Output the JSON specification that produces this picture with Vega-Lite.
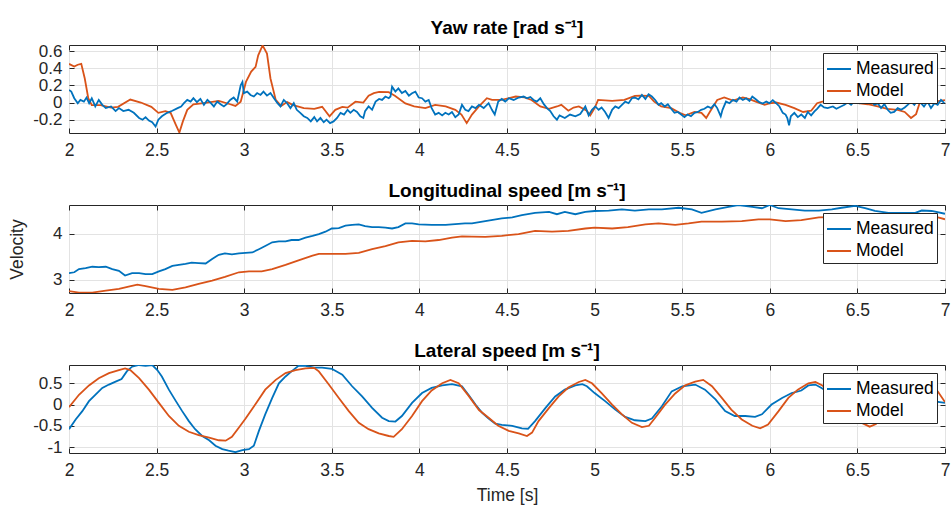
{
"$schema": "https://vega.github.io/schema/vega-lite/v6.json",
"background": "white",
"padding": {"left": 8, "top": 18, "right": 0, "bottom": 0},
"config": {
  "font": "Liberation Sans",
  "view": {"stroke": "#262626", "strokeWidth": 1},
  "axis": {"domain": false, "grid": true, "gridColor": "#e3e3e3", "gridWidth": 1, "tickColor": "#262626", "tickSize": -5, "tickWidth": 1, "labelFontSize": 17.5, "labelColor": "#262626", "labelFont": "Liberation Sans", "labelOverlap": false, "labelFlush": false, "labelBound": false, "titleFontSize": 17.5, "titleFontWeight": "normal", "titleColor": "#262626", "titleFont": "Liberation Sans"},
  "axisX": {"labelPadding": 13, "titlePadding": 8},
  "axisY": {"labelPadding": 12, "titlePadding": 26, "labelFontSize": 17},
  "title": {"fontSize": 19, "fontWeight": "bold", "color": "#000000", "font": "Liberation Sans", "offset": 4},
  "legend": {"orient": "top-right", "offset": 8, "title": null, "strokeColor": "#262626", "fillColor": "white", "padding": 3, "symbolType": "stroke", "symbolSize": 576, "symbolStrokeWidth": 2, "labelFontSize": 17.5, "labelColor": "#000000", "labelFont": "Liberation Sans", "rowPadding": 0, "labelOffset": 4, "cornerRadius": 0}
},
"bounds": "flush",
"spacing": 72,
"resolve": {"scale": {"x": "independent", "y": "independent", "color": "independent"}, "legend": {"color": "independent"}},
"datasets": {
"yaw": [
{"t":2.0,"v":0.45,"s":"Model"},{"t":2.03,"v":0.42,"s":"Model"},{"t":2.05,"v":0.44,"s":"Model"},{"t":2.07,"v":0.45,"s":"Model"},{"t":2.09,"v":0.28,"s":"Model"},{"t":2.11,"v":0.05,"s":"Model"},{"t":2.13,"v":-0.03,"s":"Model"},{"t":2.18,"v":-0.03,"s":"Model"},{"t":2.24,"v":-0.06,"s":"Model"},{"t":2.28,"v":-0.05,"s":"Model"},{"t":2.35,"v":0.035,"s":"Model"},{"t":2.41,"v":0.0,"s":"Model"},{"t":2.47,"v":-0.05,"s":"Model"},{"t":2.51,"v":-0.12,"s":"Model"},{"t":2.55,"v":-0.1,"s":"Model"},{"t":2.58,"v":-0.12,"s":"Model"},{"t":2.61,"v":-0.26,"s":"Model"},{"t":2.63,"v":-0.35,"s":"Model"},{"t":2.65,"v":-0.22,"s":"Model"},{"t":2.675,"v":-0.085,"s":"Model"},{"t":2.71,"v":-0.02,"s":"Model"},{"t":2.79,"v":0.0,"s":"Model"},{"t":2.855,"v":0.02,"s":"Model"},{"t":2.92,"v":-0.02,"s":"Model"},{"t":2.95,"v":-0.04,"s":"Model"},{"t":2.98,"v":0.01,"s":"Model"},{"t":3.01,"v":0.24,"s":"Model"},{"t":3.04,"v":0.36,"s":"Model"},{"t":3.065,"v":0.415,"s":"Model"},{"t":3.08,"v":0.55,"s":"Model"},{"t":3.105,"v":0.665,"s":"Model"},{"t":3.13,"v":0.57,"s":"Model"},{"t":3.15,"v":0.28,"s":"Model"},{"t":3.18,"v":0.03,"s":"Model"},{"t":3.21,"v":-0.04,"s":"Model"},{"t":3.245,"v":0.005,"s":"Model"},{"t":3.28,"v":-0.03,"s":"Model"},{"t":3.34,"v":-0.065,"s":"Model"},{"t":3.4,"v":-0.075,"s":"Model"},{"t":3.445,"v":-0.05,"s":"Model"},{"t":3.487,"v":-0.16,"s":"Model"},{"t":3.52,"v":-0.085,"s":"Model"},{"t":3.56,"v":-0.05,"s":"Model"},{"t":3.59,"v":-0.06,"s":"Model"},{"t":3.635,"v":0.01,"s":"Model"},{"t":3.68,"v":0.0,"s":"Model"},{"t":3.71,"v":0.08,"s":"Model"},{"t":3.74,"v":0.11,"s":"Model"},{"t":3.77,"v":0.125,"s":"Model"},{"t":3.825,"v":0.12,"s":"Model"},{"t":3.86,"v":0.08,"s":"Model"},{"t":3.92,"v":-0.01,"s":"Model"},{"t":3.97,"v":-0.046,"s":"Model"},{"t":4.034,"v":-0.065,"s":"Model"},{"t":4.09,"v":-0.027,"s":"Model"},{"t":4.15,"v":-0.046,"s":"Model"},{"t":4.205,"v":-0.085,"s":"Model"},{"t":4.24,"v":-0.14,"s":"Model"},{"t":4.27,"v":-0.24,"s":"Model"},{"t":4.3,"v":-0.14,"s":"Model"},{"t":4.34,"v":-0.046,"s":"Model"},{"t":4.385,"v":0.05,"s":"Model"},{"t":4.415,"v":0.03,"s":"Model"},{"t":4.47,"v":0.03,"s":"Model"},{"t":4.55,"v":0.07,"s":"Model"},{"t":4.6,"v":0.06,"s":"Model"},{"t":4.64,"v":0.03,"s":"Model"},{"t":4.69,"v":-0.046,"s":"Model"},{"t":4.74,"v":-0.073,"s":"Model"},{"t":4.785,"v":-0.046,"s":"Model"},{"t":4.81,"v":-0.027,"s":"Model"},{"t":4.85,"v":-0.096,"s":"Model"},{"t":4.88,"v":-0.058,"s":"Model"},{"t":4.91,"v":-0.046,"s":"Model"},{"t":4.955,"v":-0.096,"s":"Model"},{"t":4.975,"v":-0.15,"s":"Model"},{"t":5.0,"v":-0.065,"s":"Model"},{"t":5.02,"v":0.03,"s":"Model"},{"t":5.1,"v":0.02,"s":"Model"},{"t":5.17,"v":0.03,"s":"Model"},{"t":5.23,"v":0.077,"s":"Model"},{"t":5.26,"v":0.08,"s":"Model"},{"t":5.31,"v":0.077,"s":"Model"},{"t":5.34,"v":0.01,"s":"Model"},{"t":5.38,"v":-0.046,"s":"Model"},{"t":5.437,"v":-0.065,"s":"Model"},{"t":5.485,"v":-0.12,"s":"Model"},{"t":5.52,"v":-0.15,"s":"Model"},{"t":5.57,"v":-0.11,"s":"Model"},{"t":5.61,"v":-0.12,"s":"Model"},{"t":5.637,"v":-0.18,"s":"Model"},{"t":5.665,"v":-0.085,"s":"Model"},{"t":5.7,"v":0.03,"s":"Model"},{"t":5.74,"v":0.06,"s":"Model"},{"t":5.79,"v":0.023,"s":"Model"},{"t":5.846,"v":0.058,"s":"Model"},{"t":5.884,"v":0.04,"s":"Model"},{"t":5.92,"v":0.01,"s":"Model"},{"t":5.97,"v":-0.027,"s":"Model"},{"t":5.998,"v":-0.01,"s":"Model"},{"t":6.036,"v":0.0,"s":"Model"},{"t":6.09,"v":-0.027,"s":"Model"},{"t":6.14,"v":-0.065,"s":"Model"},{"t":6.19,"v":-0.11,"s":"Model"},{"t":6.236,"v":-0.096,"s":"Model"},{"t":6.27,"v":-0.008,"s":"Model"},{"t":6.3,"v":0.01,"s":"Model"},{"t":6.36,"v":0.02,"s":"Model"},{"t":6.42,"v":0.01,"s":"Model"},{"t":6.48,"v":0.0,"s":"Model"},{"t":6.56,"v":-0.02,"s":"Model"},{"t":6.615,"v":-0.046,"s":"Model"},{"t":6.67,"v":-0.073,"s":"Model"},{"t":6.73,"v":-0.085,"s":"Model"},{"t":6.77,"v":-0.11,"s":"Model"},{"t":6.806,"v":-0.18,"s":"Model"},{"t":6.835,"v":-0.135,"s":"Model"},{"t":6.855,"v":-0.008,"s":"Model"},{"t":6.88,"v":0.02,"s":"Model"},{"t":6.94,"v":0.01,"s":"Model"},{"t":7.0,"v":0.027,"s":"Model"},
{"t":2.0,"v":0.146,"s":"Measured"},{"t":2.013,"v":0.127,"s":"Measured"},{"t":2.03,"v":0.05,"s":"Measured"},{"t":2.05,"v":-0.008,"s":"Measured"},{"t":2.065,"v":0.03,"s":"Measured"},{"t":2.085,"v":0.01,"s":"Measured"},{"t":2.1,"v":0.058,"s":"Measured"},{"t":2.115,"v":-0.008,"s":"Measured"},{"t":2.13,"v":0.05,"s":"Measured"},{"t":2.15,"v":-0.046,"s":"Measured"},{"t":2.17,"v":0.03,"s":"Measured"},{"t":2.19,"v":-0.027,"s":"Measured"},{"t":2.21,"v":-0.065,"s":"Measured"},{"t":2.24,"v":-0.046,"s":"Measured"},{"t":2.266,"v":-0.1,"s":"Measured"},{"t":2.285,"v":-0.065,"s":"Measured"},{"t":2.31,"v":-0.1,"s":"Measured"},{"t":2.34,"v":-0.085,"s":"Measured"},{"t":2.37,"v":-0.12,"s":"Measured"},{"t":2.4,"v":-0.18,"s":"Measured"},{"t":2.42,"v":-0.2,"s":"Measured"},{"t":2.437,"v":-0.17,"s":"Measured"},{"t":2.456,"v":-0.21,"s":"Measured"},{"t":2.475,"v":-0.23,"s":"Measured"},{"t":2.494,"v":-0.28,"s":"Measured"},{"t":2.51,"v":-0.2,"s":"Measured"},{"t":2.53,"v":-0.16,"s":"Measured"},{"t":2.56,"v":-0.12,"s":"Measured"},{"t":2.59,"v":-0.096,"s":"Measured"},{"t":2.62,"v":-0.065,"s":"Measured"},{"t":2.64,"v":-0.046,"s":"Measured"},{"t":2.656,"v":-0.008,"s":"Measured"},{"t":2.675,"v":0.03,"s":"Measured"},{"t":2.694,"v":0.011,"s":"Measured"},{"t":2.71,"v":0.05,"s":"Measured"},{"t":2.73,"v":0.004,"s":"Measured"},{"t":2.75,"v":0.042,"s":"Measured"},{"t":2.77,"v":-0.027,"s":"Measured"},{"t":2.79,"v":0.03,"s":"Measured"},{"t":2.81,"v":-0.008,"s":"Measured"},{"t":2.827,"v":-0.046,"s":"Measured"},{"t":2.846,"v":0.011,"s":"Measured"},{"t":2.865,"v":-0.019,"s":"Measured"},{"t":2.884,"v":-0.046,"s":"Measured"},{"t":2.9,"v":-0.019,"s":"Measured"},{"t":2.92,"v":0.03,"s":"Measured"},{"t":2.94,"v":0.058,"s":"Measured"},{"t":2.96,"v":0.011,"s":"Measured"},{"t":2.98,"v":0.2,"s":"Measured"},{"t":2.99,"v":0.24,"s":"Measured"},{"t":2.998,"v":0.11,"s":"Measured"},{"t":3.017,"v":0.127,"s":"Measured"},{"t":3.036,"v":0.088,"s":"Measured"},{"t":3.055,"v":0.07,"s":"Measured"},{"t":3.074,"v":0.11,"s":"Measured"},{"t":3.093,"v":0.088,"s":"Measured"},{"t":3.11,"v":0.127,"s":"Measured"},{"t":3.13,"v":0.08,"s":"Measured"},{"t":3.15,"v":0.11,"s":"Measured"},{"t":3.17,"v":0.05,"s":"Measured"},{"t":3.19,"v":-0.008,"s":"Measured"},{"t":3.207,"v":-0.046,"s":"Measured"},{"t":3.226,"v":0.03,"s":"Measured"},{"t":3.245,"v":-0.008,"s":"Measured"},{"t":3.264,"v":-0.065,"s":"Measured"},{"t":3.283,"v":-0.008,"s":"Measured"},{"t":3.3,"v":-0.085,"s":"Measured"},{"t":3.32,"v":-0.12,"s":"Measured"},{"t":3.34,"v":-0.16,"s":"Measured"},{"t":3.36,"v":-0.18,"s":"Measured"},{"t":3.38,"v":-0.22,"s":"Measured"},{"t":3.4,"v":-0.17,"s":"Measured"},{"t":3.416,"v":-0.22,"s":"Measured"},{"t":3.435,"v":-0.18,"s":"Measured"},{"t":3.454,"v":-0.23,"s":"Measured"},{"t":3.47,"v":-0.2,"s":"Measured"},{"t":3.49,"v":-0.24,"s":"Measured"},{"t":3.51,"v":-0.22,"s":"Measured"},{"t":3.53,"v":-0.18,"s":"Measured"},{"t":3.55,"v":-0.12,"s":"Measured"},{"t":3.57,"v":-0.14,"s":"Measured"},{"t":3.59,"v":-0.085,"s":"Measured"},{"t":3.606,"v":-0.12,"s":"Measured"},{"t":3.625,"v":-0.085,"s":"Measured"},{"t":3.644,"v":-0.11,"s":"Measured"},{"t":3.663,"v":-0.16,"s":"Measured"},{"t":3.68,"v":-0.18,"s":"Measured"},{"t":3.69,"v":-0.1,"s":"Measured"},{"t":3.71,"v":-0.046,"s":"Measured"},{"t":3.73,"v":-0.085,"s":"Measured"},{"t":3.75,"v":0.011,"s":"Measured"},{"t":3.77,"v":0.042,"s":"Measured"},{"t":3.787,"v":0.03,"s":"Measured"},{"t":3.806,"v":0.07,"s":"Measured"},{"t":3.825,"v":0.05,"s":"Measured"},{"t":3.835,"v":0.07,"s":"Measured"},{"t":3.844,"v":0.185,"s":"Measured"},{"t":3.863,"v":0.127,"s":"Measured"},{"t":3.88,"v":0.165,"s":"Measured"},{"t":3.9,"v":0.11,"s":"Measured"},{"t":3.92,"v":0.135,"s":"Measured"},{"t":3.94,"v":0.08,"s":"Measured"},{"t":3.958,"v":0.108,"s":"Measured"},{"t":3.977,"v":0.127,"s":"Measured"},{"t":3.996,"v":0.058,"s":"Measured"},{"t":4.015,"v":0.05,"s":"Measured"},{"t":4.034,"v":0.011,"s":"Measured"},{"t":4.053,"v":0.03,"s":"Measured"},{"t":4.07,"v":-0.065,"s":"Measured"},{"t":4.09,"v":-0.14,"s":"Measured"},{"t":4.11,"v":-0.12,"s":"Measured"},{"t":4.13,"v":-0.15,"s":"Measured"},{"t":4.148,"v":-0.12,"s":"Measured"},{"t":4.167,"v":-0.14,"s":"Measured"},{"t":4.186,"v":-0.11,"s":"Measured"},{"t":4.205,"v":-0.17,"s":"Measured"},{"t":4.224,"v":-0.14,"s":"Measured"},{"t":4.243,"v":-0.027,"s":"Measured"},{"t":4.262,"v":-0.085,"s":"Measured"},{"t":4.28,"v":-0.1,"s":"Measured"},{"t":4.3,"v":-0.046,"s":"Measured"},{"t":4.32,"v":-0.065,"s":"Measured"},{"t":4.34,"v":-0.027,"s":"Measured"},{"t":4.367,"v":-0.065,"s":"Measured"},{"t":4.395,"v":-0.008,"s":"Measured"},{"t":4.414,"v":-0.085,"s":"Measured"},{"t":4.43,"v":-0.14,"s":"Measured"},{"t":4.45,"v":0.011,"s":"Measured"},{"t":4.47,"v":0.042,"s":"Measured"},{"t":4.49,"v":0.011,"s":"Measured"},{"t":4.51,"v":0.05,"s":"Measured"},{"t":4.538,"v":0.03,"s":"Measured"},{"t":4.567,"v":0.058,"s":"Measured"},{"t":4.595,"v":0.07,"s":"Measured"},{"t":4.614,"v":0.05,"s":"Measured"},{"t":4.633,"v":0.065,"s":"Measured"},{"t":4.652,"v":0.03,"s":"Measured"},{"t":4.67,"v":0.011,"s":"Measured"},{"t":4.69,"v":0.05,"s":"Measured"},{"t":4.71,"v":-0.019,"s":"Measured"},{"t":4.728,"v":-0.065,"s":"Measured"},{"t":4.747,"v":-0.1,"s":"Measured"},{"t":4.766,"v":-0.16,"s":"Measured"},{"t":4.785,"v":-0.2,"s":"Measured"},{"t":4.8,"v":-0.15,"s":"Measured"},{"t":4.83,"v":-0.18,"s":"Measured"},{"t":4.86,"v":-0.14,"s":"Measured"},{"t":4.89,"v":-0.16,"s":"Measured"},{"t":4.918,"v":-0.135,"s":"Measured"},{"t":4.947,"v":-0.046,"s":"Measured"},{"t":4.966,"v":-0.15,"s":"Measured"},{"t":4.985,"v":-0.085,"s":"Measured"},{"t":5.004,"v":-0.046,"s":"Measured"},{"t":5.023,"v":-0.085,"s":"Measured"},{"t":5.04,"v":-0.058,"s":"Measured"},{"t":5.06,"v":-0.11,"s":"Measured"},{"t":5.08,"v":-0.18,"s":"Measured"},{"t":5.1,"v":-0.085,"s":"Measured"},{"t":5.118,"v":-0.046,"s":"Measured"},{"t":5.137,"v":-0.065,"s":"Measured"},{"t":5.156,"v":-0.027,"s":"Measured"},{"t":5.175,"v":0.011,"s":"Measured"},{"t":5.194,"v":-0.008,"s":"Measured"},{"t":5.213,"v":0.05,"s":"Measured"},{"t":5.23,"v":0.058,"s":"Measured"},{"t":5.25,"v":0.038,"s":"Measured"},{"t":5.27,"v":0.088,"s":"Measured"},{"t":5.29,"v":0.042,"s":"Measured"},{"t":5.308,"v":0.096,"s":"Measured"},{"t":5.327,"v":0.07,"s":"Measured"},{"t":5.346,"v":0.03,"s":"Measured"},{"t":5.365,"v":-0.027,"s":"Measured"},{"t":5.38,"v":-0.008,"s":"Measured"},{"t":5.4,"v":-0.046,"s":"Measured"},{"t":5.418,"v":-0.019,"s":"Measured"},{"t":5.437,"v":-0.073,"s":"Measured"},{"t":5.456,"v":-0.12,"s":"Measured"},{"t":5.475,"v":-0.11,"s":"Measured"},{"t":5.494,"v":-0.14,"s":"Measured"},{"t":5.513,"v":-0.17,"s":"Measured"},{"t":5.53,"v":-0.14,"s":"Measured"},{"t":5.55,"v":-0.16,"s":"Measured"},{"t":5.57,"v":-0.12,"s":"Measured"},{"t":5.59,"v":-0.11,"s":"Measured"},{"t":5.608,"v":-0.085,"s":"Measured"},{"t":5.627,"v":-0.073,"s":"Measured"},{"t":5.646,"v":-0.046,"s":"Measured"},{"t":5.665,"v":-0.065,"s":"Measured"},{"t":5.684,"v":-0.019,"s":"Measured"},{"t":5.7,"v":-0.065,"s":"Measured"},{"t":5.72,"v":-0.16,"s":"Measured"},{"t":5.73,"v":-0.085,"s":"Measured"},{"t":5.75,"v":0.011,"s":"Measured"},{"t":5.77,"v":-0.008,"s":"Measured"},{"t":5.79,"v":0.03,"s":"Measured"},{"t":5.81,"v":0.011,"s":"Measured"},{"t":5.827,"v":0.058,"s":"Measured"},{"t":5.846,"v":0.03,"s":"Measured"},{"t":5.865,"v":0.05,"s":"Measured"},{"t":5.884,"v":0.019,"s":"Measured"},{"t":5.9,"v":0.07,"s":"Measured"},{"t":5.92,"v":0.038,"s":"Measured"},{"t":5.94,"v":0.004,"s":"Measured"},{"t":5.96,"v":-0.012,"s":"Measured"},{"t":5.98,"v":0.011,"s":"Measured"},{"t":5.998,"v":-0.008,"s":"Measured"},{"t":6.017,"v":0.027,"s":"Measured"},{"t":6.036,"v":-0.008,"s":"Measured"},{"t":6.055,"v":-0.046,"s":"Measured"},{"t":6.074,"v":-0.12,"s":"Measured"},{"t":6.09,"v":-0.14,"s":"Measured"},{"t":6.1,"v":-0.18,"s":"Measured"},{"t":6.11,"v":-0.265,"s":"Measured"},{"t":6.12,"v":-0.16,"s":"Measured"},{"t":6.14,"v":-0.12,"s":"Measured"},{"t":6.16,"v":-0.17,"s":"Measured"},{"t":6.18,"v":-0.14,"s":"Measured"},{"t":6.2,"v":-0.18,"s":"Measured"},{"t":6.217,"v":-0.11,"s":"Measured"},{"t":6.236,"v":-0.15,"s":"Measured"},{"t":6.255,"v":-0.104,"s":"Measured"},{"t":6.27,"v":-0.073,"s":"Measured"},{"t":6.29,"v":-0.027,"s":"Measured"},{"t":6.31,"v":-0.058,"s":"Measured"},{"t":6.33,"v":-0.065,"s":"Measured"},{"t":6.36,"v":-0.046,"s":"Measured"},{"t":6.38,"v":-0.073,"s":"Measured"},{"t":6.406,"v":-0.046,"s":"Measured"},{"t":6.426,"v":-0.027,"s":"Measured"},{"t":6.445,"v":0.004,"s":"Measured"},{"t":6.464,"v":-0.027,"s":"Measured"},{"t":6.48,"v":0.011,"s":"Measured"},{"t":6.51,"v":-0.008,"s":"Measured"},{"t":6.53,"v":0.03,"s":"Measured"},{"t":6.56,"v":-0.008,"s":"Measured"},{"t":6.578,"v":0.019,"s":"Measured"},{"t":6.597,"v":-0.027,"s":"Measured"},{"t":6.616,"v":-0.008,"s":"Measured"},{"t":6.635,"v":-0.065,"s":"Measured"},{"t":6.654,"v":-0.019,"s":"Measured"},{"t":6.673,"v":-0.085,"s":"Measured"},{"t":6.69,"v":-0.12,"s":"Measured"},{"t":6.71,"v":-0.11,"s":"Measured"},{"t":6.73,"v":-0.065,"s":"Measured"},{"t":6.75,"v":-0.085,"s":"Measured"},{"t":6.77,"v":-0.058,"s":"Measured"},{"t":6.787,"v":-0.027,"s":"Measured"},{"t":6.806,"v":0.011,"s":"Measured"},{"t":6.825,"v":-0.027,"s":"Measured"},{"t":6.844,"v":0.03,"s":"Measured"},{"t":6.863,"v":-0.008,"s":"Measured"},{"t":6.88,"v":-0.046,"s":"Measured"},{"t":6.9,"v":0.011,"s":"Measured"},{"t":6.92,"v":-0.065,"s":"Measured"},{"t":6.94,"v":-0.008,"s":"Measured"},{"t":6.958,"v":-0.027,"s":"Measured"},{"t":6.977,"v":0.03,"s":"Measured"},{"t":6.996,"v":-0.008,"s":"Measured"}
],
"lon": [
{"t":2.0,"v":3.14,"s":"Measured"},{"t":2.03,"v":3.16,"s":"Measured"},{"t":2.057,"v":3.23,"s":"Measured"},{"t":2.095,"v":3.25,"s":"Measured"},{"t":2.133,"v":3.28,"s":"Measured"},{"t":2.17,"v":3.27,"s":"Measured"},{"t":2.21,"v":3.28,"s":"Measured"},{"t":2.247,"v":3.23,"s":"Measured"},{"t":2.285,"v":3.19,"s":"Measured"},{"t":2.32,"v":3.09,"s":"Measured"},{"t":2.36,"v":3.14,"s":"Measured"},{"t":2.4,"v":3.14,"s":"Measured"},{"t":2.437,"v":3.12,"s":"Measured"},{"t":2.475,"v":3.12,"s":"Measured"},{"t":2.513,"v":3.18,"s":"Measured"},{"t":2.55,"v":3.23,"s":"Measured"},{"t":2.59,"v":3.3,"s":"Measured"},{"t":2.627,"v":3.32,"s":"Measured"},{"t":2.665,"v":3.34,"s":"Measured"},{"t":2.7,"v":3.37,"s":"Measured"},{"t":2.74,"v":3.36,"s":"Measured"},{"t":2.78,"v":3.35,"s":"Measured"},{"t":2.817,"v":3.45,"s":"Measured"},{"t":2.855,"v":3.54,"s":"Measured"},{"t":2.89,"v":3.57,"s":"Measured"},{"t":2.93,"v":3.55,"s":"Measured"},{"t":2.97,"v":3.57,"s":"Measured"},{"t":3.008,"v":3.58,"s":"Measured"},{"t":3.046,"v":3.59,"s":"Measured"},{"t":3.084,"v":3.66,"s":"Measured"},{"t":3.12,"v":3.73,"s":"Measured"},{"t":3.16,"v":3.81,"s":"Measured"},{"t":3.198,"v":3.83,"s":"Measured"},{"t":3.236,"v":3.83,"s":"Measured"},{"t":3.27,"v":3.86,"s":"Measured"},{"t":3.31,"v":3.86,"s":"Measured"},{"t":3.35,"v":3.91,"s":"Measured"},{"t":3.39,"v":3.95,"s":"Measured"},{"t":3.426,"v":3.99,"s":"Measured"},{"t":3.464,"v":4.04,"s":"Measured"},{"t":3.5,"v":4.11,"s":"Measured"},{"t":3.54,"v":4.12,"s":"Measured"},{"t":3.578,"v":4.17,"s":"Measured"},{"t":3.616,"v":4.19,"s":"Measured"},{"t":3.654,"v":4.2,"s":"Measured"},{"t":3.69,"v":4.16,"s":"Measured"},{"t":3.73,"v":4.14,"s":"Measured"},{"t":3.768,"v":4.14,"s":"Measured"},{"t":3.806,"v":4.13,"s":"Measured"},{"t":3.844,"v":4.11,"s":"Measured"},{"t":3.88,"v":4.14,"s":"Measured"},{"t":3.92,"v":4.22,"s":"Measured"},{"t":3.958,"v":4.22,"s":"Measured"},{"t":3.996,"v":4.2,"s":"Measured"},{"t":4.07,"v":4.19,"s":"Measured"},{"t":4.15,"v":4.19,"s":"Measured"},{"t":4.186,"v":4.2,"s":"Measured"},{"t":4.26,"v":4.22,"s":"Measured"},{"t":4.3,"v":4.22,"s":"Measured"},{"t":4.376,"v":4.27,"s":"Measured"},{"t":4.47,"v":4.33,"s":"Measured"},{"t":4.53,"v":4.35,"s":"Measured"},{"t":4.585,"v":4.4,"s":"Measured"},{"t":4.66,"v":4.45,"s":"Measured"},{"t":4.74,"v":4.47,"s":"Measured"},{"t":4.785,"v":4.42,"s":"Measured"},{"t":4.83,"v":4.47,"s":"Measured"},{"t":4.89,"v":4.42,"s":"Measured"},{"t":4.947,"v":4.47,"s":"Measured"},{"t":5.0,"v":4.49,"s":"Measured"},{"t":5.08,"v":4.5,"s":"Measured"},{"t":5.156,"v":4.525,"s":"Measured"},{"t":5.23,"v":4.5,"s":"Measured"},{"t":5.31,"v":4.525,"s":"Measured"},{"t":5.384,"v":4.525,"s":"Measured"},{"t":5.48,"v":4.56,"s":"Measured"},{"t":5.555,"v":4.525,"s":"Measured"},{"t":5.61,"v":4.45,"s":"Measured"},{"t":5.69,"v":4.525,"s":"Measured"},{"t":5.764,"v":4.58,"s":"Measured"},{"t":5.82,"v":4.62,"s":"Measured"},{"t":5.9,"v":4.58,"s":"Measured"},{"t":5.955,"v":4.55,"s":"Measured"},{"t":6.0,"v":4.62,"s":"Measured"},{"t":6.05,"v":4.55,"s":"Measured"},{"t":6.125,"v":4.525,"s":"Measured"},{"t":6.2,"v":4.5,"s":"Measured"},{"t":6.28,"v":4.5,"s":"Measured"},{"t":6.354,"v":4.525,"s":"Measured"},{"t":6.41,"v":4.56,"s":"Measured"},{"t":6.487,"v":4.6,"s":"Measured"},{"t":6.544,"v":4.55,"s":"Measured"},{"t":6.6,"v":4.49,"s":"Measured"},{"t":6.677,"v":4.45,"s":"Measured"},{"t":6.753,"v":4.45,"s":"Measured"},{"t":6.83,"v":4.45,"s":"Measured"},{"t":6.867,"v":4.5,"s":"Measured"},{"t":6.924,"v":4.49,"s":"Measured"},{"t":7.0,"v":4.43,"s":"Measured"},
{"t":2.0,"v":2.75,"s":"Model"},{"t":2.057,"v":2.72,"s":"Model"},{"t":2.133,"v":2.72,"s":"Model"},{"t":2.21,"v":2.76,"s":"Model"},{"t":2.285,"v":2.8,"s":"Model"},{"t":2.34,"v":2.85,"s":"Model"},{"t":2.39,"v":2.89,"s":"Model"},{"t":2.437,"v":2.86,"s":"Model"},{"t":2.513,"v":2.8,"s":"Model"},{"t":2.59,"v":2.78,"s":"Model"},{"t":2.665,"v":2.83,"s":"Model"},{"t":2.74,"v":2.91,"s":"Model"},{"t":2.817,"v":2.98,"s":"Model"},{"t":2.89,"v":3.06,"s":"Model"},{"t":2.97,"v":3.16,"s":"Model"},{"t":3.027,"v":3.18,"s":"Model"},{"t":3.1,"v":3.18,"s":"Model"},{"t":3.16,"v":3.23,"s":"Model"},{"t":3.236,"v":3.32,"s":"Model"},{"t":3.31,"v":3.42,"s":"Model"},{"t":3.39,"v":3.52,"s":"Model"},{"t":3.426,"v":3.56,"s":"Model"},{"t":3.5,"v":3.56,"s":"Model"},{"t":3.578,"v":3.56,"s":"Model"},{"t":3.654,"v":3.58,"s":"Model"},{"t":3.73,"v":3.66,"s":"Model"},{"t":3.806,"v":3.73,"s":"Model"},{"t":3.88,"v":3.81,"s":"Model"},{"t":3.958,"v":3.84,"s":"Model"},{"t":4.034,"v":3.83,"s":"Model"},{"t":4.11,"v":3.86,"s":"Model"},{"t":4.186,"v":3.91,"s":"Model"},{"t":4.243,"v":3.94,"s":"Model"},{"t":4.3,"v":3.935,"s":"Model"},{"t":4.376,"v":3.93,"s":"Model"},{"t":4.47,"v":3.95,"s":"Model"},{"t":4.566,"v":3.99,"s":"Model"},{"t":4.66,"v":4.06,"s":"Model"},{"t":4.757,"v":4.04,"s":"Model"},{"t":4.85,"v":4.06,"s":"Model"},{"t":4.947,"v":4.11,"s":"Model"},{"t":5.0,"v":4.13,"s":"Model"},{"t":5.1,"v":4.11,"s":"Model"},{"t":5.19,"v":4.14,"s":"Model"},{"t":5.29,"v":4.2,"s":"Model"},{"t":5.365,"v":4.22,"s":"Model"},{"t":5.46,"v":4.19,"s":"Model"},{"t":5.536,"v":4.22,"s":"Model"},{"t":5.61,"v":4.26,"s":"Model"},{"t":5.726,"v":4.26,"s":"Model"},{"t":5.84,"v":4.27,"s":"Model"},{"t":5.935,"v":4.31,"s":"Model"},{"t":6.0,"v":4.31,"s":"Model"},{"t":6.09,"v":4.27,"s":"Model"},{"t":6.18,"v":4.29,"s":"Model"},{"t":6.28,"v":4.35,"s":"Model"},{"t":6.4,"v":4.36,"s":"Model"},{"t":6.55,"v":4.37,"s":"Model"},{"t":6.7,"v":4.36,"s":"Model"},{"t":6.85,"v":4.37,"s":"Model"},{"t":6.96,"v":4.35,"s":"Model"},{"t":7.0,"v":4.31,"s":"Model"}
],
"lat": [
{"t":2.0,"v":-0.58,"s":"Measured"},{"t":2.038,"v":-0.35,"s":"Measured"},{"t":2.076,"v":-0.155,"s":"Measured"},{"t":2.114,"v":0.08,"s":"Measured"},{"t":2.15,"v":0.23,"s":"Measured"},{"t":2.19,"v":0.39,"s":"Measured"},{"t":2.228,"v":0.47,"s":"Measured"},{"t":2.266,"v":0.54,"s":"Measured"},{"t":2.3,"v":0.6,"s":"Measured"},{"t":2.33,"v":0.78,"s":"Measured"},{"t":2.36,"v":0.89,"s":"Measured"},{"t":2.4,"v":0.93,"s":"Measured"},{"t":2.437,"v":0.91,"s":"Measured"},{"t":2.475,"v":0.93,"s":"Measured"},{"t":2.504,"v":0.81,"s":"Measured"},{"t":2.53,"v":0.66,"s":"Measured"},{"t":2.57,"v":0.35,"s":"Measured"},{"t":2.61,"v":0.08,"s":"Measured"},{"t":2.646,"v":-0.155,"s":"Measured"},{"t":2.684,"v":-0.39,"s":"Measured"},{"t":2.72,"v":-0.58,"s":"Measured"},{"t":2.76,"v":-0.74,"s":"Measured"},{"t":2.8,"v":-0.84,"s":"Measured"},{"t":2.836,"v":-0.97,"s":"Measured"},{"t":2.875,"v":-1.05,"s":"Measured"},{"t":2.91,"v":-1.085,"s":"Measured"},{"t":2.95,"v":-1.12,"s":"Measured"},{"t":2.99,"v":-1.07,"s":"Measured"},{"t":3.027,"v":-1.05,"s":"Measured"},{"t":3.055,"v":-0.97,"s":"Measured"},{"t":3.084,"v":-0.62,"s":"Measured"},{"t":3.12,"v":-0.23,"s":"Measured"},{"t":3.16,"v":0.155,"s":"Measured"},{"t":3.198,"v":0.5,"s":"Measured"},{"t":3.236,"v":0.66,"s":"Measured"},{"t":3.27,"v":0.78,"s":"Measured"},{"t":3.31,"v":0.91,"s":"Measured"},{"t":3.35,"v":0.91,"s":"Measured"},{"t":3.4,"v":0.87,"s":"Measured"},{"t":3.445,"v":0.87,"s":"Measured"},{"t":3.5,"v":0.84,"s":"Measured"},{"t":3.56,"v":0.7,"s":"Measured"},{"t":3.616,"v":0.43,"s":"Measured"},{"t":3.673,"v":0.19,"s":"Measured"},{"t":3.73,"v":-0.08,"s":"Measured"},{"t":3.787,"v":-0.31,"s":"Measured"},{"t":3.825,"v":-0.39,"s":"Measured"},{"t":3.863,"v":-0.4,"s":"Measured"},{"t":3.9,"v":-0.27,"s":"Measured"},{"t":3.958,"v":0.04,"s":"Measured"},{"t":4.015,"v":0.27,"s":"Measured"},{"t":4.07,"v":0.39,"s":"Measured"},{"t":4.13,"v":0.45,"s":"Measured"},{"t":4.186,"v":0.48,"s":"Measured"},{"t":4.243,"v":0.43,"s":"Measured"},{"t":4.28,"v":0.23,"s":"Measured"},{"t":4.32,"v":0.0,"s":"Measured"},{"t":4.357,"v":-0.19,"s":"Measured"},{"t":4.395,"v":-0.33,"s":"Measured"},{"t":4.433,"v":-0.45,"s":"Measured"},{"t":4.47,"v":-0.48,"s":"Measured"},{"t":4.53,"v":-0.5,"s":"Measured"},{"t":4.585,"v":-0.56,"s":"Measured"},{"t":4.62,"v":-0.57,"s":"Measured"},{"t":4.66,"v":-0.39,"s":"Measured"},{"t":4.72,"v":-0.08,"s":"Measured"},{"t":4.775,"v":0.19,"s":"Measured"},{"t":4.83,"v":0.35,"s":"Measured"},{"t":4.89,"v":0.45,"s":"Measured"},{"t":4.93,"v":0.48,"s":"Measured"},{"t":4.956,"v":0.43,"s":"Measured"},{"t":5.0,"v":0.27,"s":"Measured"},{"t":5.06,"v":0.08,"s":"Measured"},{"t":5.118,"v":-0.12,"s":"Measured"},{"t":5.175,"v":-0.29,"s":"Measured"},{"t":5.23,"v":-0.37,"s":"Measured"},{"t":5.29,"v":-0.39,"s":"Measured"},{"t":5.327,"v":-0.33,"s":"Measured"},{"t":5.384,"v":-0.04,"s":"Measured"},{"t":5.44,"v":0.31,"s":"Measured"},{"t":5.5,"v":0.43,"s":"Measured"},{"t":5.574,"v":0.47,"s":"Measured"},{"t":5.63,"v":0.35,"s":"Measured"},{"t":5.69,"v":0.12,"s":"Measured"},{"t":5.745,"v":-0.155,"s":"Measured"},{"t":5.8,"v":-0.27,"s":"Measured"},{"t":5.86,"v":-0.27,"s":"Measured"},{"t":5.916,"v":-0.29,"s":"Measured"},{"t":5.955,"v":-0.23,"s":"Measured"},{"t":6.01,"v":0.0,"s":"Measured"},{"t":6.07,"v":0.155,"s":"Measured"},{"t":6.125,"v":0.27,"s":"Measured"},{"t":6.18,"v":0.33,"s":"Measured"},{"t":6.22,"v":0.45,"s":"Measured"},{"t":6.26,"v":0.47,"s":"Measured"},{"t":6.3,"v":0.38,"s":"Measured"},{"t":6.36,"v":0.15,"s":"Measured"},{"t":6.42,"v":-0.1,"s":"Measured"},{"t":6.48,"v":-0.25,"s":"Measured"},{"t":6.54,"v":-0.28,"s":"Measured"},{"t":6.6,"v":-0.2,"s":"Measured"},{"t":6.66,"v":0.05,"s":"Measured"},{"t":6.72,"v":0.3,"s":"Measured"},{"t":6.78,"v":0.42,"s":"Measured"},{"t":6.84,"v":0.38,"s":"Measured"},{"t":6.9,"v":0.2,"s":"Measured"},{"t":6.96,"v":0.06,"s":"Measured"},{"t":7.0,"v":0.04,"s":"Measured"},
{"t":2.0,"v":-0.06,"s":"Model"},{"t":2.057,"v":0.23,"s":"Model"},{"t":2.114,"v":0.45,"s":"Model"},{"t":2.17,"v":0.62,"s":"Model"},{"t":2.228,"v":0.74,"s":"Model"},{"t":2.285,"v":0.81,"s":"Model"},{"t":2.32,"v":0.85,"s":"Model"},{"t":2.35,"v":0.81,"s":"Model"},{"t":2.4,"v":0.62,"s":"Model"},{"t":2.456,"v":0.35,"s":"Model"},{"t":2.513,"v":0.04,"s":"Model"},{"t":2.57,"v":-0.27,"s":"Model"},{"t":2.627,"v":-0.5,"s":"Model"},{"t":2.684,"v":-0.64,"s":"Model"},{"t":2.74,"v":-0.72,"s":"Model"},{"t":2.8,"v":-0.78,"s":"Model"},{"t":2.855,"v":-0.84,"s":"Model"},{"t":2.894,"v":-0.85,"s":"Model"},{"t":2.93,"v":-0.76,"s":"Model"},{"t":2.97,"v":-0.54,"s":"Model"},{"t":3.008,"v":-0.33,"s":"Model"},{"t":3.065,"v":0.015,"s":"Model"},{"t":3.12,"v":0.35,"s":"Model"},{"t":3.18,"v":0.58,"s":"Model"},{"t":3.236,"v":0.74,"s":"Model"},{"t":3.293,"v":0.81,"s":"Model"},{"t":3.35,"v":0.85,"s":"Model"},{"t":3.4,"v":0.86,"s":"Model"},{"t":3.426,"v":0.78,"s":"Model"},{"t":3.483,"v":0.47,"s":"Model"},{"t":3.54,"v":0.155,"s":"Model"},{"t":3.597,"v":-0.155,"s":"Model"},{"t":3.654,"v":-0.43,"s":"Model"},{"t":3.71,"v":-0.58,"s":"Model"},{"t":3.768,"v":-0.68,"s":"Model"},{"t":3.825,"v":-0.74,"s":"Model"},{"t":3.853,"v":-0.76,"s":"Model"},{"t":3.9,"v":-0.58,"s":"Model"},{"t":3.958,"v":-0.27,"s":"Model"},{"t":4.015,"v":0.08,"s":"Model"},{"t":4.07,"v":0.33,"s":"Model"},{"t":4.13,"v":0.5,"s":"Model"},{"t":4.177,"v":0.58,"s":"Model"},{"t":4.224,"v":0.5,"s":"Model"},{"t":4.28,"v":0.21,"s":"Model"},{"t":4.34,"v":-0.13,"s":"Model"},{"t":4.395,"v":-0.31,"s":"Model"},{"t":4.45,"v":-0.5,"s":"Model"},{"t":4.51,"v":-0.62,"s":"Model"},{"t":4.567,"v":-0.68,"s":"Model"},{"t":4.614,"v":-0.74,"s":"Model"},{"t":4.643,"v":-0.66,"s":"Model"},{"t":4.68,"v":-0.39,"s":"Model"},{"t":4.74,"v":-0.08,"s":"Model"},{"t":4.795,"v":0.19,"s":"Model"},{"t":4.85,"v":0.4,"s":"Model"},{"t":4.91,"v":0.53,"s":"Model"},{"t":4.947,"v":0.58,"s":"Model"},{"t":4.985,"v":0.5,"s":"Model"},{"t":5.04,"v":0.27,"s":"Model"},{"t":5.1,"v":0.0,"s":"Model"},{"t":5.156,"v":-0.23,"s":"Model"},{"t":5.213,"v":-0.43,"s":"Model"},{"t":5.27,"v":-0.53,"s":"Model"},{"t":5.31,"v":-0.5,"s":"Model"},{"t":5.346,"v":-0.31,"s":"Model"},{"t":5.4,"v":-0.015,"s":"Model"},{"t":5.46,"v":0.26,"s":"Model"},{"t":5.517,"v":0.45,"s":"Model"},{"t":5.574,"v":0.54,"s":"Model"},{"t":5.62,"v":0.58,"s":"Model"},{"t":5.67,"v":0.43,"s":"Model"},{"t":5.726,"v":0.155,"s":"Model"},{"t":5.78,"v":-0.12,"s":"Model"},{"t":5.84,"v":-0.35,"s":"Model"},{"t":5.9,"v":-0.5,"s":"Model"},{"t":5.945,"v":-0.56,"s":"Model"},{"t":5.99,"v":-0.47,"s":"Model"},{"t":6.05,"v":-0.155,"s":"Model"},{"t":6.106,"v":0.155,"s":"Model"},{"t":6.16,"v":0.35,"s":"Model"},{"t":6.22,"v":0.5,"s":"Model"},{"t":6.26,"v":0.53,"s":"Model"},{"t":6.3,"v":0.45,"s":"Model"},{"t":6.36,"v":0.2,"s":"Model"},{"t":6.42,"v":-0.08,"s":"Model"},{"t":6.48,"v":-0.26,"s":"Model"},{"t":6.52,"v":-0.42,"s":"Model"},{"t":6.57,"v":-0.52,"s":"Model"},{"t":6.606,"v":-0.46,"s":"Model"},{"t":6.654,"v":-0.19,"s":"Model"},{"t":6.69,"v":0.12,"s":"Model"},{"t":6.74,"v":0.42,"s":"Model"},{"t":6.8,"v":0.57,"s":"Model"},{"t":6.88,"v":0.6,"s":"Model"},{"t":6.92,"v":0.5,"s":"Model"},{"t":6.96,"v":0.3,"s":"Model"},{"t":7.0,"v":0.06,"s":"Model"}
]
},
"vconcat": [
{
 "title": {"text": "Yaw rate [rad s⁻¹]"},
 "width": 876, "height": 88,
 "data": {"name": "yaw"},
 "layer": [
  {"mark": {"type": "line", "strokeWidth": 1.8, "clip": true},
   "encoding": {
    "x": {"field": "t", "type": "quantitative", "scale": {"domain": [2, 7], "nice": false, "zero": false}, "axis": {"values": [2, 2.5, 3, 3.5, 4, 4.5, 5, 5.5, 6, 6.5, 7], "labelExpr": "'' + datum.value", "title": null}},
    "y": {"field": "v", "type": "quantitative", "scale": {"domain": [-0.355, 0.67], "nice": false, "zero": false}, "axis": {"values": [-0.2, 0, 0.2, 0.4, 0.6], "labelExpr": "'' + datum.value", "title": null}},
    "color": {"field": "s", "type": "nominal", "scale": {"domain": ["Measured", "Model"], "range": ["#0072BD", "#D95319"]}}
   }},
  {"mark": {"type": "line", "opacity": 0},
   "encoding": {
    "x": {"field": "t", "type": "quantitative", "axis": {"orient": "top", "values": [2, 2.5, 3, 3.5, 4, 4.5, 5, 5.5, 6, 6.5, 7], "labels": false, "grid": false, "title": null}},
    "y": {"field": "v", "type": "quantitative", "axis": {"orient": "right", "values": [-0.2, 0, 0.2, 0.4, 0.6], "labels": false, "grid": false, "title": null}}
   }}
 ],
 "resolve": {"axis": {"x": "independent", "y": "independent"}}
},
{
 "title": {"text": "Longitudinal speed [m s⁻¹]"},
 "width": 876, "height": 88,
 "data": {"name": "lon"},
 "layer": [
  {"mark": {"type": "line", "strokeWidth": 1.8, "clip": true},
   "encoding": {
    "x": {"field": "t", "type": "quantitative", "scale": {"domain": [2, 7], "nice": false, "zero": false}, "axis": {"values": [2, 2.5, 3, 3.5, 4, 4.5, 5, 5.5, 6, 6.5, 7], "labelExpr": "'' + datum.value", "title": null}},
    "y": {"field": "v", "type": "quantitative", "scale": {"domain": [2.71, 4.62], "nice": false, "zero": false}, "axis": {"values": [3, 4], "labelExpr": "'' + datum.value", "title": "Velocity"}},
    "color": {"field": "s", "type": "nominal", "scale": {"domain": ["Measured", "Model"], "range": ["#0072BD", "#D95319"]}}
   }},
  {"mark": {"type": "line", "opacity": 0},
   "encoding": {
    "x": {"field": "t", "type": "quantitative", "axis": {"orient": "top", "values": [2, 2.5, 3, 3.5, 4, 4.5, 5, 5.5, 6, 6.5, 7], "labels": false, "grid": false, "title": null}},
    "y": {"field": "v", "type": "quantitative", "axis": {"orient": "right", "values": [3, 4], "labels": false, "grid": false, "title": null}}
   }}
 ],
 "resolve": {"axis": {"x": "independent", "y": "independent"}}
},
{
 "title": {"text": "Lateral speed [m s⁻¹]"},
 "width": 876, "height": 88,
 "data": {"name": "lat"},
 "layer": [
  {"mark": {"type": "line", "strokeWidth": 1.8, "clip": true},
   "encoding": {
    "x": {"field": "t", "type": "quantitative", "scale": {"domain": [2, 7], "nice": false, "zero": false}, "axis": {"values": [2, 2.5, 3, 3.5, 4, 4.5, 5, 5.5, 6, 6.5, 7], "labelExpr": "'' + datum.value", "title": "Time [s]"}},
    "y": {"field": "v", "type": "quantitative", "scale": {"domain": [-1.14, 0.93], "nice": false, "zero": false}, "axis": {"values": [-1, -0.5, 0, 0.5], "labelExpr": "'' + datum.value", "title": null}},
    "color": {"field": "s", "type": "nominal", "scale": {"domain": ["Measured", "Model"], "range": ["#0072BD", "#D95319"]}}
   }},
  {"mark": {"type": "line", "opacity": 0},
   "encoding": {
    "x": {"field": "t", "type": "quantitative", "axis": {"orient": "top", "values": [2, 2.5, 3, 3.5, 4, 4.5, 5, 5.5, 6, 6.5, 7], "labels": false, "grid": false, "title": null}},
    "y": {"field": "v", "type": "quantitative", "axis": {"orient": "right", "values": [-1, -0.5, 0, 0.5], "labels": false, "grid": false, "title": null}}
   }}
 ],
 "resolve": {"axis": {"x": "independent", "y": "independent"}}
}
]
}
